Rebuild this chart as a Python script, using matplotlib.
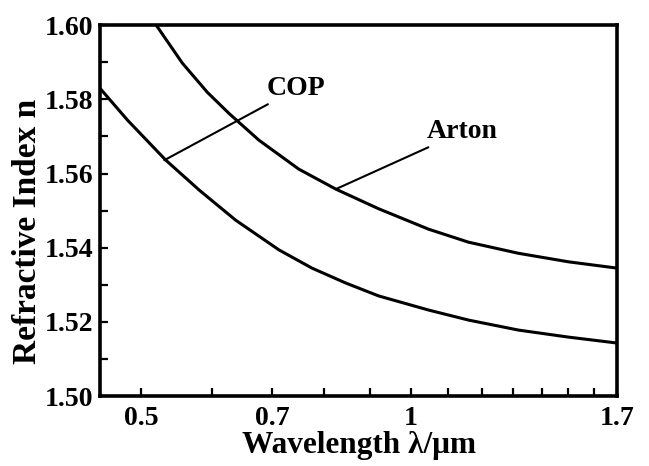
import matplotlib
matplotlib.use("Agg")
import matplotlib.pyplot as plt
from matplotlib.ticker import FixedLocator, FixedFormatter, NullFormatter

# values
arton_wl = [0.520, 0.556, 0.593, 0.627, 0.677, 0.750, 0.825, 0.921, 1.047, 1.160, 1.319, 1.500, 1.700]
arton_n = [1.6000, 1.5898, 1.5819, 1.5762, 1.5690, 1.5612, 1.5558, 1.5505, 1.5450, 1.5415, 1.5385, 1.5362, 1.5345]

cop_wl = [0.450, 0.483, 0.533, 0.581, 0.638, 0.713, 0.776, 0.846, 0.921, 1.047, 1.160, 1.319, 1.500, 1.700]
cop_n = [1.5830, 1.5744, 1.5636, 1.5555, 1.5474, 1.5394, 1.5345, 1.5305, 1.5270, 1.5232, 1.5205, 1.5178, 1.5159, 1.5143]

x_major = [0.5, 0.7, 1.0, 1.7]
x_labels = ["0.5", "0.7", "1", "1.7"]
x_minor = [0.6, 0.8, 0.9, 1.1, 1.2, 1.3, 1.4, 1.5, 1.6]
y_major = [1.50, 1.52, 1.54, 1.56, 1.58, 1.60]
y_minor = [1.51, 1.53, 1.55, 1.57, 1.59]

plt.rcParams['font.family'] = ['Liberation Serif', 'DejaVu Serif']
plt.rcParams['font.weight'] = 'bold'

fig = plt.figure(figsize=(6.49, 4.66), dpi=100)
ax = fig.add_axes([0.154, 0.150, 0.797, 0.796])

ax.plot(arton_wl, arton_n, color='black', lw=2.2, solid_joinstyle='round')
ax.plot(cop_wl, cop_n, color='black', lw=2.2, solid_joinstyle='round')

ax.set_xscale('log')
ax.set_xlim(0.45, 1.7)
ax.set_ylim(1.50, 1.60)

ax.xaxis.set_major_locator(FixedLocator(x_major))
ax.xaxis.set_major_formatter(FixedFormatter(x_labels))
ax.xaxis.set_minor_locator(FixedLocator(x_minor))
ax.xaxis.set_minor_formatter(NullFormatter())
ax.yaxis.set_major_locator(FixedLocator(y_major))
ax.yaxis.set_minor_locator(FixedLocator(y_minor))
ax.set_yticklabels(["%.2f" % v for v in y_major])

ax.tick_params(which='both', direction='in', length=6, width=1.6, top=False, right=False)
ax.tick_params(axis='x', which='major', labelsize=20, pad=7)
ax.tick_params(axis='y', which='major', labelsize=20, pad=5)
for lab in ax.get_xticklabels() + ax.get_yticklabels():
    lab.set_fontweight('bold')

for sp in ax.spines.values():
    sp.set_linewidth(2.6)

ax.set_xlabel("Wavelength λ/μm", fontsize=22.5, fontweight='bold', va='center')
ax.xaxis.set_label_coords(0.501, -0.132)
ax.set_ylabel("Refractive Index n", fontsize=24, fontweight='bold', va='center')
ax.yaxis.set_label_coords(-0.141, 0.445)

# leader-line labels
ax.annotate("COP", xy=(0.531, 1.5636), xytext=(0.691, 1.5828),
            fontsize=20, fontweight='bold', va='center', ha='left',
            arrowprops=dict(arrowstyle='-', lw=1.5, color='black', shrinkA=0, shrinkB=0))
ax.annotate("Arton", xy=(0.825, 1.5558), xytext=(1.042, 1.5712),
            fontsize=20, fontweight='bold', va='center', ha='left',
            arrowprops=dict(arrowstyle='-', lw=1.5, color='black', shrinkA=0, shrinkB=0))

fig.savefig("out.png", dpi=100)
